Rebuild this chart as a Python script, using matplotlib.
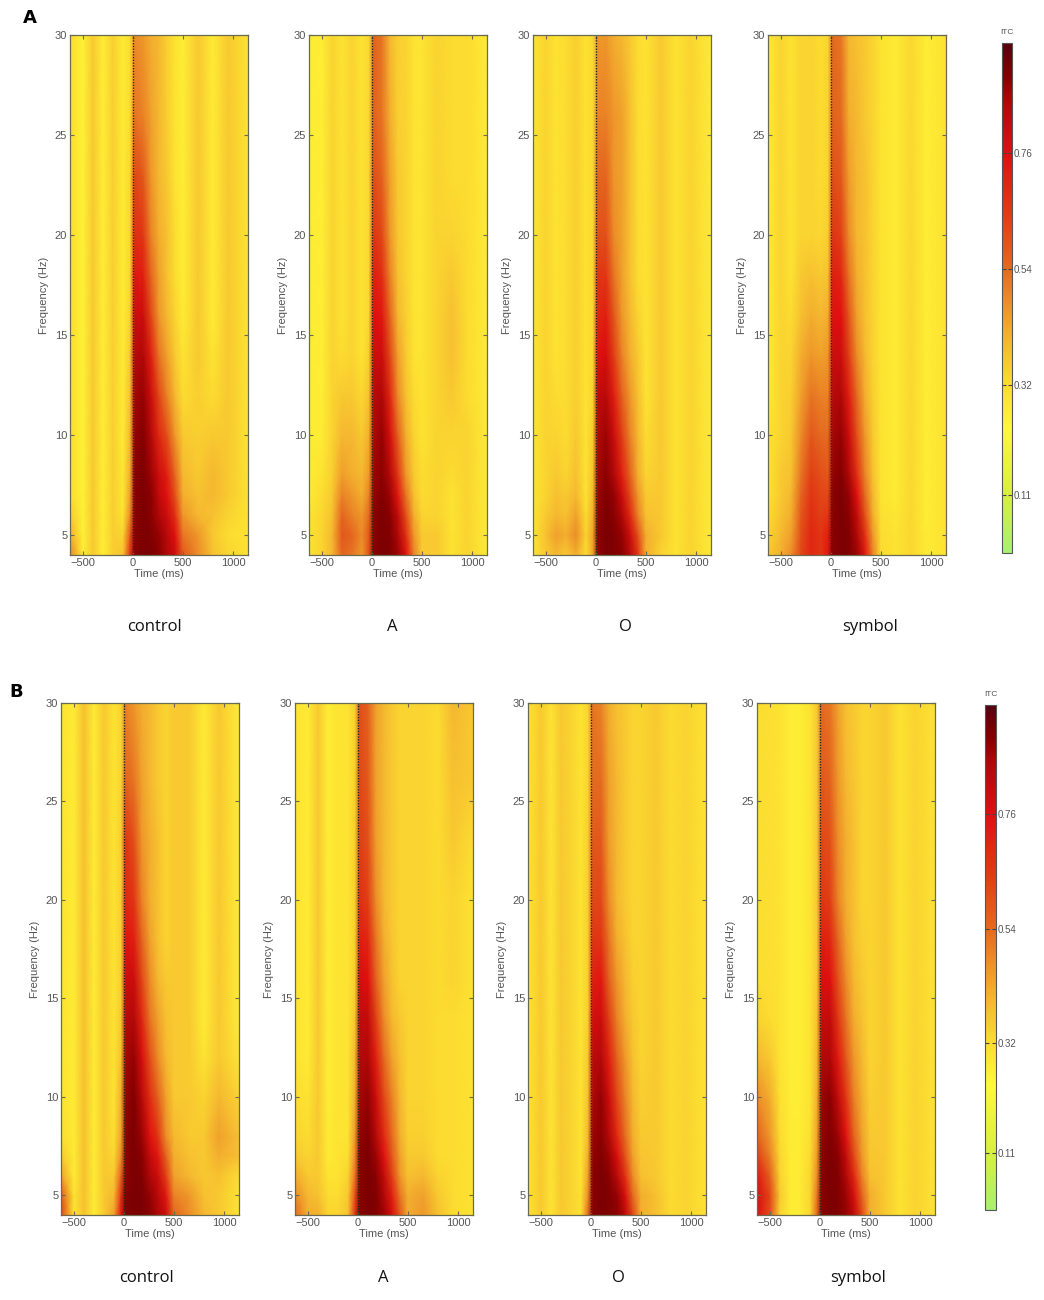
import numpy as np
import matplotlib
matplotlib.use("Agg")
import matplotlib.pyplot as plt
from matplotlib.colors import LinearSegmentedColormap, Normalize
from matplotlib.colorbar import ColorbarBase

# ---------------- data (ITC x 100) ----------------
freqs = [4, 5, 6, 7, 8, 10, 12, 14, 16, 18, 20, 23, 26, 30]
times = [-630, -500, -400, -300, -200, -100, -30, 20, 100, 180, 260, 340, 420, 500, 650, 800, 950, 1150]
conditions = ["control", "A", "O", "symbol"]
cbar_ticks = [0.11, 0.32, 0.54, 0.76]

itc_A_control = [
    [50, 28, 36, 27, 35, 38, 66, 90, 92, 92, 90, 86, 80, 58, 48, 38, 34, 30],
    [42, 26, 36, 27, 35, 34, 58, 90, 92, 91, 89, 84, 76, 52, 46, 36, 32, 30],
    [36, 26, 36, 27, 35, 30, 48, 90, 92, 90, 86, 80, 68, 46, 40, 38, 34, 30],
    [32, 26, 36, 27, 35, 29, 44, 90, 92, 90, 82, 76, 60, 42, 38, 40, 36, 30],
    [32, 26, 36, 27, 35, 29, 42, 90, 92, 88, 80, 72, 55, 40, 36, 40, 36, 30],
    [32, 26, 36, 27, 35, 28, 40, 89, 91, 85, 70, 60, 46, 36, 35, 36, 36, 30],
    [32, 26, 36, 27, 35, 28, 38, 87, 89, 80, 62, 50, 40, 32, 35, 32, 36, 30],
    [32, 26, 36, 27, 35, 28, 36, 84, 86, 72, 52, 44, 36, 30, 36, 30, 36, 30],
    [32, 26, 36, 27, 35, 28, 34, 80, 80, 62, 46, 40, 34, 28, 36, 28, 36, 30],
    [32, 26, 36, 27, 35, 28, 33, 74, 72, 55, 44, 38, 32, 27, 36, 28, 36, 30],
    [32, 26, 36, 27, 35, 28, 33, 68, 66, 50, 42, 38, 32, 27, 36, 28, 36, 30],
    [32, 26, 36, 27, 35, 28, 33, 62, 58, 46, 40, 36, 30, 27, 36, 28, 36, 30],
    [32, 26, 36, 27, 35, 28, 32, 52, 50, 44, 40, 35, 30, 27, 36, 28, 36, 30],
    [32, 26, 36, 27, 35, 28, 32, 48, 46, 42, 40, 35, 30, 27, 36, 28, 36, 30],
]
itc_A_A = [
    [30, 34, 40, 55, 52, 46, 60, 90, 92, 91, 88, 76, 50, 36, 36, 30, 34, 28],
    [30, 34, 40, 58, 55, 48, 58, 90, 92, 91, 86, 68, 46, 36, 36, 30, 34, 28],
    [30, 33, 38, 55, 50, 46, 54, 90, 92, 90, 82, 60, 42, 34, 34, 30, 34, 28],
    [28, 32, 36, 50, 46, 42, 50, 89, 91, 88, 74, 52, 38, 32, 34, 30, 34, 28],
    [28, 30, 35, 45, 42, 40, 46, 88, 90, 85, 66, 46, 36, 32, 34, 32, 34, 28],
    [28, 28, 34, 40, 40, 36, 42, 86, 89, 78, 56, 42, 34, 30, 34, 34, 34, 28],
    [28, 27, 34, 36, 36, 33, 38, 84, 86, 70, 48, 38, 32, 30, 34, 36, 32, 28],
    [28, 27, 34, 32, 34, 30, 35, 80, 80, 62, 44, 36, 30, 30, 34, 38, 32, 28],
    [28, 27, 34, 30, 34, 30, 33, 76, 74, 55, 40, 35, 30, 30, 34, 38, 32, 28],
    [28, 27, 34, 30, 34, 30, 33, 72, 68, 50, 38, 34, 30, 30, 34, 36, 32, 28],
    [28, 27, 34, 30, 34, 30, 33, 66, 62, 46, 37, 34, 30, 30, 34, 34, 32, 28],
    [28, 27, 34, 30, 34, 30, 33, 60, 56, 44, 36, 34, 30, 30, 34, 32, 32, 28],
    [28, 27, 34, 30, 34, 30, 33, 56, 52, 42, 35, 34, 30, 30, 34, 32, 32, 28],
    [28, 27, 34, 30, 34, 30, 33, 56, 52, 40, 35, 34, 30, 30, 34, 32, 32, 28],
]
itc_A_O = [
    [30, 36, 40, 36, 42, 32, 44, 89, 92, 91, 90, 84, 66, 42, 34, 30, 34, 28],
    [30, 38, 44, 42, 48, 34, 44, 90, 92, 91, 89, 80, 60, 42, 36, 30, 34, 28],
    [30, 36, 40, 38, 44, 32, 42, 89, 92, 90, 86, 70, 50, 38, 36, 30, 34, 28],
    [30, 34, 38, 36, 40, 30, 40, 88, 91, 89, 80, 62, 46, 36, 36, 30, 34, 28],
    [30, 34, 36, 34, 38, 30, 38, 87, 90, 86, 72, 56, 42, 34, 36, 30, 34, 28],
    [30, 34, 34, 32, 36, 30, 36, 85, 88, 80, 64, 50, 40, 32, 36, 30, 34, 28],
    [30, 34, 32, 32, 35, 30, 34, 82, 84, 72, 56, 46, 38, 30, 36, 30, 34, 28],
    [30, 34, 30, 32, 35, 30, 33, 76, 78, 64, 50, 42, 36, 30, 36, 30, 34, 28],
    [30, 34, 30, 32, 35, 30, 33, 70, 72, 58, 46, 40, 34, 30, 36, 30, 34, 28],
    [30, 34, 30, 32, 35, 30, 33, 66, 66, 52, 44, 38, 32, 30, 36, 30, 34, 28],
    [30, 34, 30, 32, 35, 30, 33, 60, 60, 48, 44, 38, 32, 30, 36, 30, 34, 28],
    [30, 34, 30, 32, 35, 30, 33, 55, 55, 46, 44, 38, 32, 30, 36, 30, 34, 28],
    [30, 34, 30, 32, 35, 30, 33, 50, 50, 46, 44, 38, 32, 30, 36, 30, 34, 28],
    [30, 34, 30, 32, 35, 30, 33, 46, 46, 42, 40, 36, 32, 30, 36, 30, 34, 28],
]
itc_A_symbol = [
    [36, 42, 48, 62, 70, 66, 74, 90, 92, 91, 88, 74, 50, 32, 30, 33, 28, 30],
    [34, 40, 44, 60, 70, 66, 72, 90, 92, 91, 86, 68, 46, 32, 30, 33, 28, 30],
    [32, 38, 42, 58, 68, 64, 66, 90, 92, 90, 82, 60, 42, 31, 29, 33, 27, 30],
    [30, 36, 40, 55, 66, 62, 62, 90, 92, 89, 76, 54, 40, 30, 28, 33, 27, 30],
    [30, 36, 38, 52, 64, 60, 58, 89, 91, 86, 68, 50, 38, 30, 28, 33, 27, 30],
    [30, 34, 36, 48, 58, 54, 54, 87, 89, 80, 60, 46, 36, 30, 28, 33, 27, 30],
    [28, 34, 35, 44, 52, 50, 50, 84, 86, 72, 54, 42, 35, 30, 28, 33, 27, 30],
    [28, 34, 34, 42, 46, 44, 46, 80, 80, 64, 48, 40, 34, 30, 28, 33, 27, 30],
    [28, 34, 32, 38, 42, 40, 42, 76, 76, 58, 44, 38, 34, 30, 28, 33, 27, 30],
    [28, 34, 30, 36, 38, 36, 38, 72, 70, 52, 42, 38, 34, 30, 28, 33, 27, 30],
    [28, 34, 30, 34, 34, 33, 35, 66, 64, 48, 40, 38, 34, 30, 28, 33, 27, 30],
    [28, 34, 30, 34, 34, 32, 34, 60, 58, 45, 40, 38, 34, 30, 28, 33, 27, 30],
    [28, 34, 30, 34, 34, 32, 34, 56, 54, 42, 40, 36, 34, 30, 28, 33, 27, 30],
    [28, 34, 30, 34, 34, 32, 34, 54, 52, 40, 38, 36, 34, 30, 28, 33, 27, 30],
]
itc_B_control = [
    [64, 30, 38, 28, 36, 44, 74, 91, 92, 92, 90, 86, 80, 55, 48, 40, 36, 30],
    [58, 30, 38, 28, 36, 40, 66, 91, 92, 92, 89, 84, 74, 50, 46, 38, 36, 30],
    [44, 28, 38, 28, 36, 36, 56, 90, 92, 91, 86, 80, 64, 44, 40, 36, 38, 32],
    [36, 28, 38, 28, 36, 33, 48, 90, 92, 90, 82, 74, 56, 42, 38, 36, 42, 38],
    [32, 28, 38, 28, 36, 31, 44, 90, 92, 88, 76, 66, 48, 40, 36, 36, 44, 38],
    [30, 28, 38, 28, 36, 30, 42, 89, 91, 84, 68, 56, 44, 36, 36, 34, 40, 34],
    [30, 28, 38, 28, 36, 30, 38, 87, 89, 78, 60, 48, 40, 36, 36, 30, 36, 30],
    [30, 28, 38, 28, 36, 30, 36, 84, 85, 70, 52, 44, 38, 36, 36, 28, 36, 28],
    [30, 28, 38, 28, 36, 30, 35, 80, 80, 62, 48, 40, 36, 36, 36, 28, 36, 28],
    [30, 28, 38, 28, 36, 30, 35, 75, 72, 55, 44, 38, 34, 36, 36, 28, 36, 28],
    [30, 28, 38, 28, 36, 30, 35, 70, 66, 50, 42, 38, 34, 36, 36, 28, 36, 28],
    [30, 28, 38, 28, 36, 30, 35, 66, 60, 46, 42, 38, 34, 36, 36, 28, 36, 28],
    [30, 28, 38, 28, 36, 30, 34, 56, 52, 44, 40, 36, 34, 36, 36, 28, 36, 28],
    [30, 28, 38, 28, 36, 30, 34, 50, 46, 42, 40, 36, 34, 36, 36, 28, 36, 28],
]
itc_B_A = [
    [54, 42, 42, 34, 34, 38, 66, 90, 92, 91, 88, 78, 58, 42, 46, 38, 32, 30],
    [48, 40, 38, 32, 32, 36, 60, 90, 92, 91, 86, 72, 52, 42, 44, 36, 32, 30],
    [42, 36, 36, 30, 30, 34, 52, 90, 92, 90, 82, 64, 46, 38, 40, 34, 32, 30],
    [36, 34, 36, 28, 30, 31, 48, 90, 92, 88, 76, 58, 44, 36, 36, 32, 32, 30],
    [34, 32, 36, 28, 30, 30, 46, 89, 91, 85, 70, 54, 42, 35, 35, 32, 32, 30],
    [32, 30, 36, 27, 30, 30, 42, 87, 89, 80, 62, 50, 40, 34, 34, 32, 32, 30],
    [30, 28, 36, 27, 30, 30, 40, 85, 86, 72, 54, 44, 38, 34, 34, 32, 32, 30],
    [30, 28, 36, 27, 30, 30, 37, 82, 82, 64, 48, 40, 36, 34, 34, 32, 32, 30],
    [30, 28, 36, 27, 30, 30, 35, 78, 76, 56, 44, 38, 34, 34, 34, 32, 34, 30],
    [30, 28, 36, 27, 30, 30, 35, 72, 70, 52, 42, 37, 34, 34, 34, 32, 34, 30],
    [30, 28, 36, 27, 30, 30, 35, 68, 64, 48, 40, 36, 34, 34, 34, 32, 34, 30],
    [30, 28, 36, 27, 30, 30, 35, 64, 60, 45, 40, 36, 34, 34, 34, 32, 36, 32],
    [30, 28, 36, 27, 30, 30, 35, 62, 58, 44, 40, 36, 34, 34, 34, 32, 38, 36],
    [30, 28, 36, 27, 30, 30, 35, 60, 56, 44, 40, 36, 34, 34, 34, 32, 40, 36],
]
itc_B_O = [
    [30, 36, 30, 36, 34, 31, 54, 90, 92, 91, 90, 84, 62, 42, 38, 32, 34, 30],
    [30, 36, 30, 36, 34, 31, 48, 90, 92, 91, 89, 78, 54, 42, 38, 32, 34, 30],
    [30, 36, 30, 36, 34, 30, 44, 90, 92, 90, 84, 68, 48, 38, 36, 32, 34, 30],
    [30, 36, 30, 36, 34, 30, 42, 89, 91, 88, 78, 60, 44, 37, 36, 32, 34, 30],
    [30, 36, 30, 36, 34, 30, 40, 88, 90, 85, 70, 54, 42, 36, 36, 32, 34, 30],
    [30, 36, 30, 36, 34, 30, 38, 86, 89, 80, 62, 50, 40, 35, 36, 32, 34, 30],
    [30, 36, 30, 36, 34, 30, 36, 83, 85, 72, 56, 46, 38, 34, 36, 32, 34, 30],
    [30, 36, 30, 36, 34, 30, 35, 78, 80, 64, 50, 42, 36, 34, 36, 32, 34, 30],
    [30, 36, 30, 36, 34, 30, 35, 72, 74, 56, 46, 40, 35, 34, 36, 32, 34, 30],
    [30, 36, 30, 36, 34, 30, 35, 66, 66, 52, 42, 38, 34, 34, 36, 32, 34, 30],
    [30, 36, 30, 36, 34, 30, 35, 62, 62, 48, 40, 36, 34, 34, 36, 32, 34, 30],
    [30, 36, 30, 36, 34, 30, 35, 58, 58, 45, 40, 36, 34, 34, 36, 32, 34, 30],
    [30, 36, 30, 36, 34, 30, 34, 54, 54, 44, 40, 36, 34, 34, 36, 32, 34, 30],
    [30, 36, 30, 36, 34, 30, 34, 52, 50, 42, 38, 36, 34, 34, 36, 32, 34, 30],
]
itc_B_symbol = [
    [76, 60, 34, 28, 28, 33, 54, 90, 92, 91, 89, 82, 62, 42, 36, 30, 34, 30],
    [78, 62, 36, 28, 28, 33, 52, 90, 92, 91, 88, 78, 56, 42, 36, 30, 34, 30],
    [74, 56, 34, 28, 28, 33, 48, 90, 92, 91, 86, 70, 50, 38, 36, 30, 34, 30],
    [64, 50, 33, 28, 28, 32, 46, 90, 92, 90, 82, 62, 46, 37, 36, 30, 34, 30],
    [56, 46, 32, 28, 28, 31, 44, 89, 91, 88, 76, 56, 44, 36, 36, 30, 34, 30],
    [48, 42, 31, 27, 27, 30, 42, 88, 90, 82, 66, 50, 42, 35, 36, 30, 34, 30],
    [40, 36, 30, 27, 27, 30, 40, 85, 86, 74, 58, 46, 40, 34, 36, 30, 34, 30],
    [34, 32, 30, 27, 27, 30, 38, 81, 82, 66, 52, 42, 38, 34, 36, 30, 34, 30],
    [32, 31, 30, 27, 27, 30, 36, 77, 76, 60, 48, 40, 36, 34, 36, 30, 34, 30],
    [32, 31, 30, 27, 27, 30, 36, 72, 70, 55, 44, 38, 35, 34, 36, 30, 34, 30],
    [32, 31, 30, 27, 27, 30, 36, 66, 64, 50, 42, 38, 34, 34, 36, 30, 34, 30],
    [32, 31, 30, 27, 27, 30, 36, 62, 60, 48, 42, 38, 34, 34, 36, 30, 34, 30],
    [32, 31, 30, 27, 27, 30, 36, 58, 56, 46, 40, 37, 34, 34, 36, 30, 34, 30],
    [32, 31, 30, 27, 27, 30, 36, 54, 52, 44, 38, 36, 34, 34, 36, 30, 34, 30],
]

rows_data = [
    [itc_A_control, itc_A_A, itc_A_O, itc_A_symbol],
    [itc_B_control, itc_B_A, itc_B_O, itc_B_symbol],
]

# ---------------- style ----------------
W, H = 1044, 1300
fig = plt.figure(figsize=(W / 100, H / 100), dpi=100)

VMAX = 0.97
cmap = LinearSegmentedColormap.from_list("itc", [
    (0.00, "#a8f070"),
    (0.11 / VMAX, "#d8f040"),
    (0.24 / VMAX, "#fff838"),
    (0.32 / VMAX, "#fcdc30"),
    (0.40 / VMAX, "#f5b830"),
    (0.48 / VMAX, "#ec8c28"),
    (0.54 / VMAX, "#e46a20"),
    (0.65 / VMAX, "#e03a14"),
    (0.76 / VMAX, "#e01010"),
    (0.86 / VMAX, "#b00808"),
    (0.91 / VMAX, "#840000"),
    (1.00, "#580010"),
])
norm = Normalize(vmin=0.0, vmax=VMAX)

frame_col = "#6a6a50"
tick_col = "#555555"
tfont = "Liberation Sans"


def px_axes(left, top, width, height):
    return fig.add_axes([left / W, 1 - (top + height) / H, width / W, height / H])


row_geom = [
    dict(lefts=[70, 309, 533, 768], top=35, height=520, label_y=627,
         label_x=[155, 392, 625, 870]),
    dict(lefts=[61, 295, 528, 757], top=703, height=512, label_y=1278,
         label_x=[147, 383, 618, 858]),
]

T, F = np.meshgrid(np.array(times, float), np.array(freqs, float))

for r, geom in enumerate(row_geom):
    for c in range(4):
        ax = px_axes(geom["lefts"][c], geom["top"], 178, geom["height"])
        Z = np.array(rows_data[r][c], float) / 100.0
        ax.pcolormesh(T, F, Z, cmap=cmap, norm=norm, shading="gouraud")
        ax.axvline(0, color="#222222", linestyle=(0, (1, 1)), linewidth=1.0)
        ax.set_xlim(-630, 1150)
        ax.set_ylim(4, 30)
        ax.set_xticks([-500, 0, 500, 1000])
        ax.set_yticks([5, 10, 15, 20, 25, 30])
        ax.tick_params(direction="in", length=3, width=0.8, color=frame_col,
                       top=True, right=True, labelsize=8, labelcolor=tick_col, pad=2)
        for lab in ax.get_xticklabels() + ax.get_yticklabels():
            lab.set_family(tfont)
        for sp in ax.spines.values():
            sp.set_color(frame_col)
            sp.set_linewidth(0.9)
        ax.set_xlabel("Time (ms)", fontsize=8, color=tick_col, family=tfont, labelpad=1)
        ax.set_ylabel("Frequency (Hz)", fontsize=8, color=tick_col, family=tfont, labelpad=4)
        fig.text(geom["label_x"][c] / W, 1 - geom["label_y"] / H,
                 conditions[c], ha="center", va="center", fontsize=12,
                 family="Open Sans", color="#111111")

# colorbars
cbar_geom = [(1002, 43, 10, 510), (985, 705, 11, 505)]
for (l, t, w, h) in cbar_geom:
    cax = px_axes(l, t, w, h)
    cb = ColorbarBase(cax, cmap=cmap, norm=norm, orientation="vertical", ticks=cbar_ticks)
    cb.set_ticklabels(["%.2f" % v for v in cbar_ticks])
    cax.tick_params(direction="in", length=3, width=0.8, color="#444444",
                    labelsize=7, labelcolor="#555555", pad=1, left=True, right=True)
    for lab in cax.get_yticklabels():
        lab.set_family(tfont)
    cb.outline.set_edgecolor("#555555")
    cb.outline.set_linewidth(0.8)
    fig.text((l + w / 2) / W, 1 - (t - 10) / H, "ITC", ha="center", va="center",
             fontsize=6, color="#555555", family=tfont)

fig.text(30 / W, 1 - 18 / H, "A", ha="center", va="center", fontsize=13,
         fontweight="bold", family="DejaVu Sans", color="black")
fig.text(16 / W, 1 - 692 / H, "B", ha="center", va="center", fontsize=13,
         fontweight="bold", family="DejaVu Sans", color="black")

fig.savefig("out.png", dpi=100, facecolor="white")
